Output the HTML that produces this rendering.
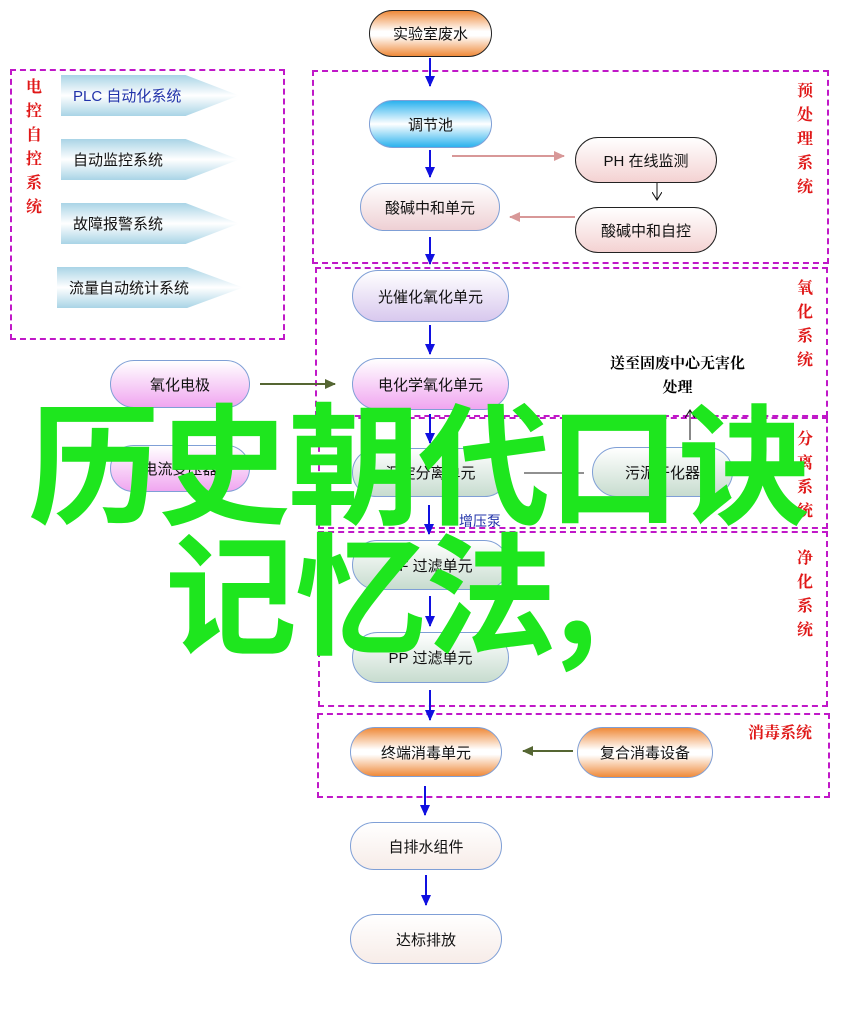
<!DOCTYPE html>
<html><head><meta charset="utf-8"><style>
body{margin:0;background:#fff;}
#c{position:relative;width:841px;height:1017px;overflow:hidden;background:#fff;font-family:"Liberation Sans","Noto Sans CJK SC",sans-serif;}
.n{position:absolute;box-sizing:border-box;border-radius:26px;display:flex;align-items:center;justify-content:center;font-size:15px;color:#111;border:1px solid #7f9fd6;}
.or{background:linear-gradient(#ef8a3a,#fff 45%,#fff 55%,#ef8a3a);}
.bl{background:linear-gradient(#2bb2ee,#fff 50%,#2bb2ee);}
.pk{background:linear-gradient(#fff,#f4d2d2);border-color:#222;}
.pk2{background:linear-gradient(#fff,#eed0d4);}
.lv{background:linear-gradient(#fff,#d8c8ee);}
.mg{background:linear-gradient(#fff,#f0a6f0);}
.gr{background:linear-gradient(#fff,#c7dccf);}
.wt{background:linear-gradient(#fff,#f7ece8);}
.box{position:absolute;box-sizing:border-box;border:2px dashed #c018c8;}
.lab{position:absolute;color:#e01818;font-family:"Liberation Serif","Noto Serif CJK SC",serif;font-weight:bold;font-size:16px;line-height:24px;width:18px;}
.arr{position:absolute;box-sizing:border-box;height:41px;clip-path:polygon(0 0,70% 0,100% 50%,70% 100%,0 100%);background:linear-gradient(#a9d4e6,#fff 50%,#a9d4e6);font-size:15px;color:#111;display:flex;align-items:center;padding-left:12px;}
.g{position:absolute;color:#1ee61e;font-family:"Noto Sans CJK SC",sans-serif;font-weight:bold;font-size:132px;line-height:1;white-space:nowrap;letter-spacing:-2px;}
</style></head><body><div id="c">
<div class="box" style="left:10px;top:69px;width:275px;height:271px"></div>
<div class="box" style="left:312px;top:70px;width:517px;height:194px"></div>
<div class="box" style="left:315px;top:267px;width:513px;height:150px"></div>
<div class="box" style="left:318px;top:417px;width:510px;height:112px"></div>
<div class="box" style="left:318px;top:531px;width:510px;height:176px"></div>
<div class="box" style="left:317px;top:713px;width:513px;height:85px"></div>

<div class="lab" style="left:26px;top:76px">电控自控系统</div>
<div class="lab" style="left:797px;top:80px">预处理系统</div>
<div class="lab" style="left:797px;top:277px">氧化系统</div>
<div class="lab" style="left:797px;top:428px">分离系统</div>
<div class="lab" style="left:797px;top:547px">净化系统</div>
<div class="lab" style="left:748px;top:722px;width:80px">消毒系统</div>

<div class="arr" style="left:61px;top:75px;width:178px;color:#2233aa">PLC 自动化系统</div>
<div class="arr" style="left:61px;top:139px;width:178px">自动监控系统</div>
<div class="arr" style="left:61px;top:203px;width:178px">故障报警系统</div>
<div class="arr" style="left:57px;top:267px;width:186px">流量自动统计系统</div>

<div class="n or" style="left:369px;top:10px;width:123px;height:47px;border-color:#222">实验室废水</div>
<div class="n bl" style="left:369px;top:100px;width:123px;height:48px">调节池</div>
<div class="n pk2" style="left:360px;top:183px;width:140px;height:48px">酸碱中和单元</div>
<div class="n pk" style="left:575px;top:137px;width:142px;height:46px">PH 在线监测</div>
<div class="n pk" style="left:575px;top:207px;width:142px;height:46px">酸碱中和自控</div>
<div class="n lv" style="left:352px;top:270px;width:157px;height:52px">光催化氧化单元</div>
<div class="n mg" style="left:352px;top:358px;width:157px;height:52px">电化学氧化单元</div>
<div class="n mg" style="left:110px;top:360px;width:140px;height:48px">氧化电极</div>
<div class="n mg" style="left:110px;top:445px;width:140px;height:47px">电流变压器</div>
<div class="n gr" style="left:352px;top:448px;width:157px;height:49px">沉淀分离单元</div>
<div class="n gr" style="left:592px;top:447px;width:141px;height:50px">污泥干化器</div>
<div class="n gr" style="left:352px;top:540px;width:157px;height:50px">UF 过滤单元</div>
<div class="n gr" style="left:352px;top:632px;width:157px;height:51px">PP 过滤单元</div>
<div class="n or" style="left:350px;top:727px;width:152px;height:50px">终端消毒单元</div>
<div class="n or" style="left:577px;top:727px;width:136px;height:51px">复合消毒设备</div>
<div class="n wt" style="left:350px;top:822px;width:152px;height:48px">自排水组件</div>
<div class="n wt" style="left:350px;top:914px;width:152px;height:50px">达标排放</div>

<div style="position:absolute;left:600px;top:352px;width:155px;text-align:center;font-family:'Liberation Serif','Noto Serif CJK SC',serif;font-weight:bold;font-size:15px;line-height:24px">送至固废中心无害化<br>处理</div>
<div style="position:absolute;left:459px;top:511px;font-size:14px;color:#2233aa">增压泵</div>

<svg width="841" height="1017" style="position:absolute;left:0;top:0">
<defs>
<marker id="b" markerUnits="userSpaceOnUse" markerWidth="12" markerHeight="12" refX="10" refY="6" orient="auto"><path d="M0,1L11,6L0,11z" fill="#1010e0"/></marker>
<marker id="p" markerUnits="userSpaceOnUse" markerWidth="12" markerHeight="12" refX="10" refY="6" orient="auto"><path d="M0,1L11,6L0,11z" fill="#d89898"/></marker>
<marker id="o" markerUnits="userSpaceOnUse" markerWidth="12" markerHeight="12" refX="10" refY="6" orient="auto"><path d="M0,1L11,6L0,11z" fill="#556633"/></marker>
<marker id="k" markerUnits="userSpaceOnUse" markerWidth="10" markerHeight="10" refX="8" refY="5" orient="auto"><path d="M0,0L8,5L0,10" fill="none" stroke="#111"/></marker>
</defs>
<g stroke="#1010e0" stroke-width="2" marker-end="url(#b)">
<line x1="430" y1="58" x2="430" y2="86"/>
<line x1="430" y1="150" x2="430" y2="177"/>
<line x1="430" y1="237" x2="430" y2="264"/>
<line x1="430" y1="325" x2="430" y2="354"/>
<line x1="430" y1="414" x2="430" y2="443"/>
<line x1="429" y1="505" x2="429" y2="534"/>
<line x1="430" y1="596" x2="430" y2="626"/>
<line x1="430" y1="690" x2="430" y2="720"/>
<line x1="425" y1="786" x2="425" y2="815"/>
<line x1="426" y1="875" x2="426" y2="905"/>
</g>
<line x1="452" y1="156" x2="564" y2="156" stroke="#d89898" stroke-width="2" marker-end="url(#p)"/>
<line x1="575" y1="217" x2="510" y2="217" stroke="#d89898" stroke-width="2" marker-end="url(#p)"/>
<line x1="657" y1="183" x2="657" y2="200" stroke="#111" marker-end="url(#k)"/>
<line x1="260" y1="384" x2="335" y2="384" stroke="#556633" stroke-width="2" marker-end="url(#o)"/>
<line x1="573" y1="751" x2="523" y2="751" stroke="#556633" stroke-width="2" marker-end="url(#o)"/>
<line x1="524" y1="473" x2="584" y2="473" stroke="#222"/>
<line x1="690" y1="440" x2="690" y2="410" stroke="#111" marker-end="url(#k)"/>
</svg>

<div class="g" style="left:28px;top:392px">历史朝代口诀</div>
<div class="g" style="left:165px;top:522px">记忆法,</div>
</div></body></html>
